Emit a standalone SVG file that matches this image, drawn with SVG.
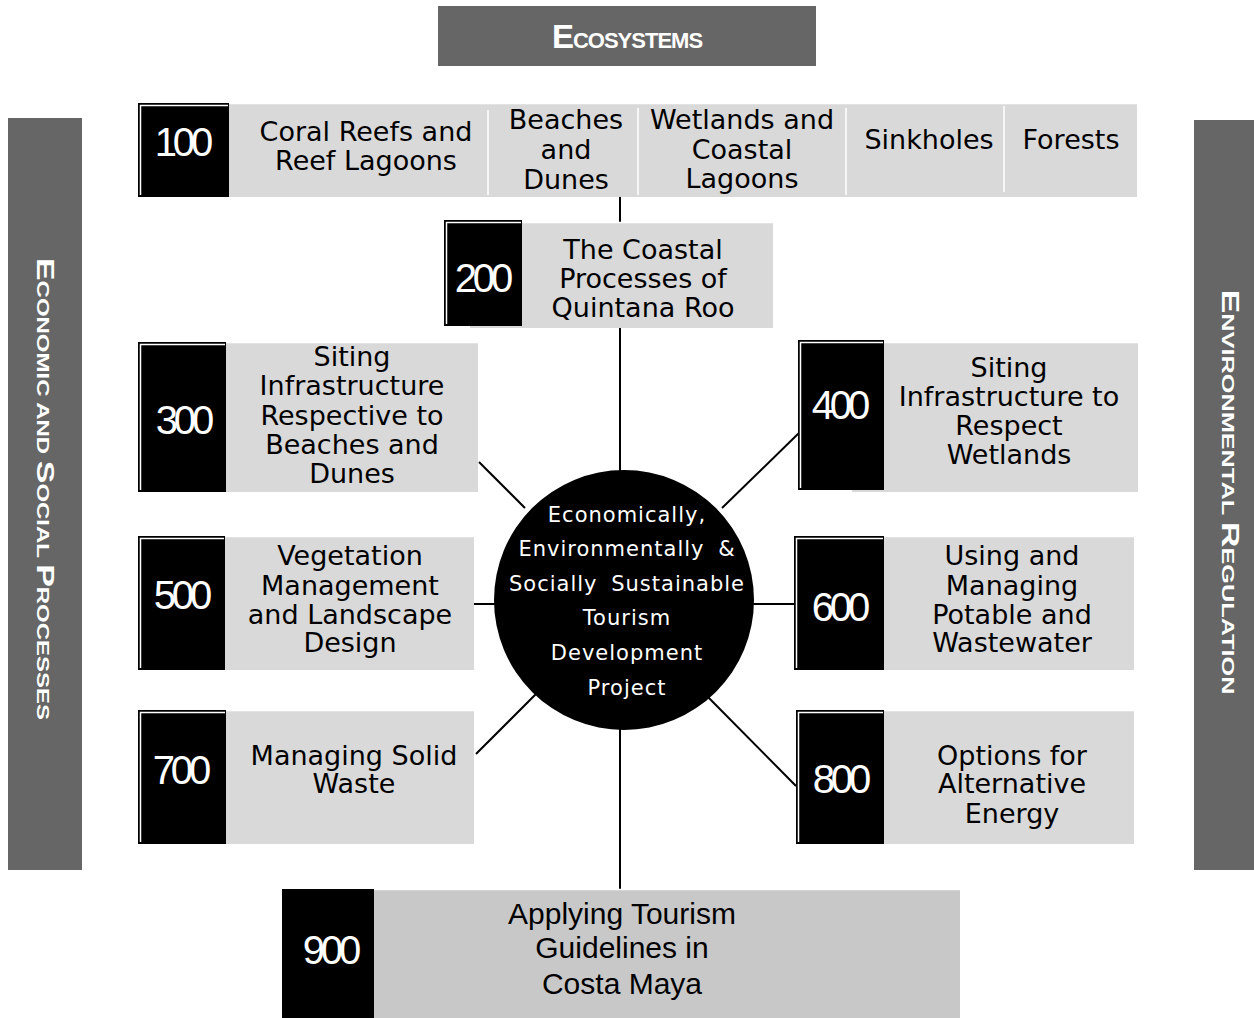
<svg xmlns="http://www.w3.org/2000/svg" width="1254" height="1018" viewBox="0 0 1254 1018">
<style>
.banner{fill:#666666}
.btxt{fill:#ffffff;font-family:"Liberation Sans",Arial,sans-serif;font-weight:bold}
.num{fill:#000000}
.gray{fill:#d9d9d9}
.gray9{fill:#c8c8c8}
.hl{stroke:#ffffff;stroke-width:1.5;fill:none}
.ntxt{fill:#ffffff;font-family:"Liberation Sans",Arial,sans-serif;font-size:40px;letter-spacing:-4px;text-anchor:middle}
.lbl{fill:#000000;font-family:"DejaVu Sans","Noto Sans",sans-serif;font-size:27px;text-anchor:middle}
.lbl9{fill:#000000;font-family:"Liberation Sans",Arial,sans-serif;font-size:30px;text-anchor:middle}
.ctxt{fill:#ffffff;font-family:"DejaVu Sans","Noto Sans",sans-serif;font-size:21px;letter-spacing:1px;word-spacing:6px;text-anchor:middle}
.conn{stroke:#000000;stroke-width:2;fill:none}
</style>

<g id="banner-ecosystems">
<rect class="banner" x="438" y="6" width="378" height="60"/>
<text class="btxt" x="627" y="48" text-anchor="middle" letter-spacing="-1"><tspan font-size="33">E</tspan><tspan font-size="22">COSYSTEMS</tspan></text>
</g>

<g id="banner-economic">
<rect class="banner" x="8" y="118" width="74" height="752"/>
<text class="btxt" transform="translate(37 489) rotate(90)" text-anchor="middle" textLength="462" lengthAdjust="spacingAndGlyphs"><tspan font-size="24">E</tspan><tspan font-size="17">CONOMIC AND </tspan><tspan font-size="24">S</tspan><tspan font-size="17">OCIAL </tspan><tspan font-size="24">P</tspan><tspan font-size="17">ROCESSES</tspan></text>
</g>

<g id="banner-environmental">
<rect class="banner" x="1194" y="120" width="60" height="750"/>
<text class="btxt" transform="translate(1222 492) rotate(90)" text-anchor="middle" textLength="405" lengthAdjust="spacingAndGlyphs"><tspan font-size="24">E</tspan><tspan font-size="17">NVIRONMENTAL </tspan><tspan font-size="24">R</tspan><tspan font-size="17">EGULATION</tspan></text>
</g>

<g id="connectors">
<line class="conn" x1="620" y1="197" x2="620" y2="222"/>
<line class="conn" x1="620" y1="328" x2="620" y2="472"/>
<line class="conn" x1="620" y1="728" x2="620" y2="889"/>
<line class="conn" x1="479" y1="462" x2="525" y2="508"/>
<line class="conn" x1="800" y1="432" x2="722" y2="508"/>
<line class="conn" x1="474" y1="604" x2="496" y2="604"/>
<line class="conn" x1="752" y1="604" x2="794" y2="604"/>
<line class="conn" x1="476" y1="754" x2="541" y2="689"/>
<line class="conn" x1="796" y1="786" x2="705" y2="694"/>
</g>

<g id="node-100">
<rect class="gray" x="229" y="103" width="908" height="94"/>
<line class="hl" x1="229" y1="103.5" x2="1137" y2="103.5"/>
<line class="hl" x1="488" y1="110" x2="488" y2="195"/>
<line class="hl" x1="638" y1="108" x2="638" y2="195"/>
<line class="hl" x1="846" y1="108" x2="846" y2="195"/>
<line class="hl" x1="1004" y1="106" x2="1004" y2="192"/>
<rect class="num" x="138" y="103" width="91" height="94"/>
<path class="hl" d="M140.5 195 V105.5 H228"/>
<text class="ntxt" x="182" y="156">100</text>
<text class="lbl" x="366" y="141">Coral Reefs and</text>
<text class="lbl" x="366" y="170">Reef Lagoons</text>
<text class="lbl" x="566" y="129">Beaches</text>
<text class="lbl" x="566" y="159">and</text>
<text class="lbl" x="566" y="189">Dunes</text>
<text class="lbl" x="742" y="129">Wetlands and</text>
<text class="lbl" x="742" y="159">Coastal</text>
<text class="lbl" x="742" y="188">Lagoons</text>
<text class="lbl" x="929" y="149">Sinkholes</text>
<text class="lbl" x="1071" y="149">Forests</text>
</g>

<g id="node-200">
<rect class="gray" x="470" y="222" width="303" height="106"/>
<line class="hl" x1="522" y1="222.5" x2="773" y2="222.5"/>
<rect class="num" x="444" y="220" width="78" height="106"/>
<path class="hl" d="M446.5 324 V222.5 H521"/>
<text class="ntxt" x="482" y="292">200</text>
<text class="lbl" x="643" y="259">The Coastal</text>
<text class="lbl" x="643" y="288">Processes of</text>
<text class="lbl" x="643" y="317">Quintana Roo</text>
</g>

<g id="node-300">
<rect class="gray" x="226" y="342" width="252" height="150"/>
<line class="hl" x1="226" y1="342.5" x2="478" y2="342.5"/>
<rect class="num" x="138" y="342" width="88" height="150"/>
<path class="hl" d="M140.5 490 V344.5 H225"/>
<text class="ntxt" x="183" y="434">300</text>
<text class="lbl" x="352" y="366">Siting</text>
<text class="lbl" x="352" y="395">Infrastructure</text>
<text class="lbl" x="352" y="425">Respective to</text>
<text class="lbl" x="352" y="454">Beaches and</text>
<text class="lbl" x="352" y="483">Dunes</text>
</g>

<g id="node-400">
<rect class="gray" x="852" y="342" width="286" height="150"/>
<line class="hl" x1="884" y1="342.5" x2="1138" y2="342.5"/>
<rect class="num" x="798" y="340" width="86" height="150"/>
<path class="hl" d="M800.5 488 V342.5 H883"/>
<text class="ntxt" x="839" y="419">400</text>
<text class="lbl" x="1009" y="377">Siting</text>
<text class="lbl" x="1009" y="406">Infrastructure to</text>
<text class="lbl" x="1009" y="435">Respect</text>
<text class="lbl" x="1009" y="464">Wetlands</text>
</g>

<g id="node-500">
<rect class="gray" x="225" y="536" width="249" height="134"/>
<line class="hl" x1="225" y1="536.5" x2="474" y2="536.5"/>
<rect class="num" x="138" y="536" width="87" height="134"/>
<path class="hl" d="M140.5 668 V538.5 H224"/>
<text class="ntxt" x="181" y="609">500</text>
<text class="lbl" x="350" y="565">Vegetation</text>
<text class="lbl" x="350" y="595">Management</text>
<text class="lbl" x="350" y="624">and Landscape</text>
<text class="lbl" x="350" y="652">Design</text>
</g>

<g id="node-600">
<rect class="gray" x="884" y="536" width="250" height="134"/>
<line class="hl" x1="884" y1="536.5" x2="1134" y2="536.5"/>
<rect class="num" x="794" y="536" width="90" height="134"/>
<path class="hl" d="M796.5 668 V538.5 H883"/>
<text class="ntxt" x="839" y="621">600</text>
<text class="lbl" x="1012" y="565">Using and</text>
<text class="lbl" x="1012" y="595">Managing</text>
<text class="lbl" x="1012" y="624">Potable and</text>
<text class="lbl" x="1012" y="652">Wastewater</text>
</g>

<g id="node-700">
<rect class="gray" x="226" y="710" width="248" height="134"/>
<line class="hl" x1="226" y1="710.5" x2="474" y2="710.5"/>
<rect class="num" x="138" y="710" width="88" height="134"/>
<path class="hl" d="M140.5 842 V712.5 H225"/>
<text class="ntxt" x="180" y="784">700</text>
<text class="lbl" x="354" y="765">Managing Solid</text>
<text class="lbl" x="354" y="793">Waste</text>
</g>

<g id="node-800">
<rect class="gray" x="884" y="710" width="250" height="134"/>
<line class="hl" x1="884" y1="710.5" x2="1134" y2="710.5"/>
<rect class="num" x="796" y="710" width="88" height="134"/>
<path class="hl" d="M798.5 842 V712.5 H883"/>
<text class="ntxt" x="840" y="793">800</text>
<text class="lbl" x="1012" y="765">Options for</text>
<text class="lbl" x="1012" y="793">Alternative</text>
<text class="lbl" x="1012" y="823">Energy</text>
</g>

<g id="node-900">
<rect class="gray9" x="374" y="889" width="586" height="129"/>
<line class="hl" x1="374" y1="889.5" x2="960" y2="889.5"/>
<rect class="num" x="282" y="889" width="92" height="129"/>
<text class="ntxt" x="330" y="964">900</text>
<text class="lbl9" x="622" y="924">Applying Tourism</text>
<text class="lbl9" x="622" y="958">Guidelines in</text>
<text class="lbl9" x="622" y="994">Costa Maya</text>
</g>

<g id="node-center">
<circle cx="624" cy="600" r="130" fill="#000000"/>
<text class="ctxt" x="627" y="522">Economically,</text>
<text class="ctxt" x="627" y="556">Environmentally &amp;</text>
<text class="ctxt" x="627" y="591">Socially Sustainable</text>
<text class="ctxt" x="627" y="625">Tourism</text>
<text class="ctxt" x="627" y="660">Development</text>
<text class="ctxt" x="627" y="695">Project</text>
</g>
</svg>
